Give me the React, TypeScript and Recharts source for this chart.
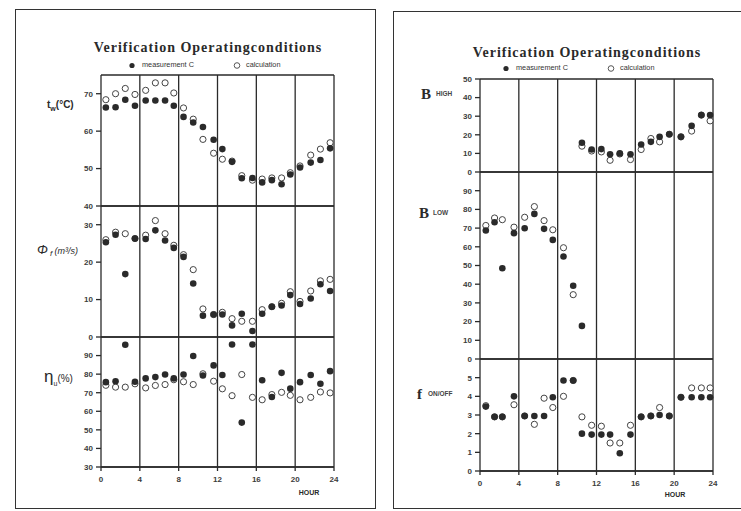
import React from "react";
import { ScatterChart, Scatter, XAxis, YAxis, ReferenceLine } from "recharts";

const hourTicks = [0, 4, 8, 12, 16, 20, 24];
const gridHours = [4, 8, 12, 16, 20];

// left sheet: water temperature, flow, efficiency
const leftHours = [0.5, 1.5, 2.5, 3.5, 4.6, 5.6, 6.6, 7.5, 8.5, 9.5, 10.5, 11.6, 12.5, 13.5, 14.5, 15.6, 16.6, 17.6, 18.6, 19.5, 20.5, 21.6, 22.6, 23.6];
const twMeasured = [66.3, 66.4, 68.4, 66.8, 68.2, 68.2, 68.2, 66.8, 63.8, 62.3, 61.1, 57.7, 55.2, 51.8, 47.4, 47.5, 46.3, 46.9, 45.8, 48.4, 50.3, 51.6, 52.3, 55.4];
const twCalc = [68.4, 70.0, 71.4, 69.8, 70.9, 72.9, 72.9, 70.2, 66.2, 63.2, 57.8, 54.1, 52.5, 52.0, 48.1, 46.9, 47.2, 47.5, 47.5, 48.9, 50.7, 53.6, 55.2, 56.9];
const phiMeasured = [25.3, 27.3, 16.8, 26.3, 26.2, 28.5, 25.8, 23.8, 21.4, 14.3, 5.7, 6.0, 6.0, 3.1, 6.2, 1.6, 6.2, 8.1, 8.4, 11.2, 8.8, 10.3, 14.1, 12.3];
const phiCalc = [26.0, 28.0, 27.6, 26.3, 27.2, 31.1, 27.6, 24.5, 22.0, 18.0, 7.5, 6.0, 6.6, 4.9, 4.2, 4.2, 7.3, 8.1, 9.0, 12.1, 9.5, 12.3, 15.0, 15.4];
const etaMeasured = [75.7, 76.2, 95.8, 75.9, 77.7, 78.4, 79.8, 77.7, 79.8, 89.8, 79.3, 84.7, 79.5, 96.0, 53.9, 96.0, 76.7, 67.7, 80.7, 72.2, 75.7, 79.5, 74.8, 81.6];
const etaCalc = [74.0, 73.0, 73.0, 74.8, 72.6, 73.9, 74.4, 77.0, 75.9, 74.4, 80.2, 76.2, 72.1, 68.4, 79.8, 67.5, 66.2, 69.0, 70.2, 68.6, 66.2, 67.5, 70.4, 69.9];

// right sheet: burner high / low, switching frequency
const rightHours = [0.6, 1.5, 2.3, 3.5, 4.6, 5.6, 6.6, 7.5, 8.6, 9.6, 10.5, 11.5, 12.5, 13.4, 14.4, 15.5, 16.6, 17.6, 18.5, 19.5, 20.7, 21.8, 22.8, 23.7];
const bHighMeasured = [null, null, null, null, null, null, null, null, null, null, 15.7, 12.1, 12.3, 9.5, 10.0, 9.5, 14.8, 16.2, 18.9, 20.3, 18.9, 24.8, 30.6, 30.6];
const bHighCalc = [null, null, null, null, null, null, null, null, null, null, 13.9, 11.3, 10.8, 6.3, 9.7, 6.7, 12.1, 18.0, 16.2, 20.3, 18.9, 22.0, 30.6, 27.5];
const bLowMeasured = [68.7, 73.1, 48.5, 67.3, 69.9, 77.6, 69.6, 63.7, 54.8, 39.2, 17.7, null, null, null, null, null, null, null, null, null, null, null, null, null];
const bLowCalc = [71.4, 75.4, 74.5, 70.5, 75.8, 81.5, 74.0, 69.1, 59.5, 34.4, null, null, null, null, null, null, null, null, null, null, null, null, null, null];
const fMeasured = [3.45, 2.9, 2.9, 4.0, 2.95, 2.95, 2.95, 3.95, 4.85, 4.85, 2.0, 1.95, 1.95, 1.95, 0.95, 1.95, 2.9, 2.95, 3.0, 2.95, 3.95, 3.95, 3.95, 3.95];
const fCalc = [3.5, 2.9, 2.9, 3.55, 2.95, 2.5, 3.9, 3.4, 4.0, 4.85, 2.9, 2.45, 2.4, 1.5, 1.5, 2.45, 2.9, 2.95, 3.4, 2.95, 3.95, 4.45, 4.45, 4.45];

const INK = "#2a2a2a";
const tickStyle = {
  fill: "#3c3c3c",
  fontSize: 8,
  fontWeight: 700,
  fontFamily: "Liberation Sans, Arial, sans-serif",
};

function pairs(hours: number[], values: (number | null)[]) {
  return hours
    .map((hour, i) => ({ hour, value: values[i] }))
    .filter((d) => d.value !== null);
}

const Dot = (p: any) => <circle cx={p.cx} cy={p.cy} r={3.3} fill={INK} />;
const Ring = (p: any) => (
  <circle cx={p.cx} cy={p.cy} r={3.1} fill="#fff" stroke="#444" strokeWidth={1} />
);

interface StripProps {
  x: number;
  y: number;
  w: number;
  h: number;
  domain: [number, number];
  ticks: number[];
  hours: number[];
  measured: (number | null)[];
  calc: (number | null)[];
  showHours?: boolean;
}

function Strip({ x, y, w, h, domain, ticks, hours, measured, calc, showHours }: StripProps) {
  const padL = 40;
  const padT = 6;
  const padR = 6;
  const padB = showHours ? 24 : 6;
  const line = { stroke: INK, strokeWidth: 1.3 };
  return (
    <div style={{ position: "absolute", left: x - padL, top: y - padT }}>
      <ScatterChart
        width={w + padL + padR}
        height={h + padT + padB}
        margin={{ top: padT, right: padR, bottom: showHours ? 0 : padB, left: 0 }}
      >
        <XAxis
          type="number"
          dataKey="hour"
          domain={[0, 24]}
          ticks={hourTicks}
          hide={!showHours}
          height={padB}
          tick={tickStyle}
          tickSize={4}
          tickMargin={5}
          axisLine={line}
          tickLine={line}
          interval={0}
        />
        <YAxis
          type="number"
          dataKey="value"
          domain={domain}
          ticks={ticks}
          width={padL}
          tick={tickStyle}
          tickSize={5}
          tickMargin={3}
          axisLine={line}
          tickLine={line}
          interval={0}
        />
        {gridHours.map((g) => (
          <ReferenceLine key={g} x={g} {...line} />
        ))}
        <ReferenceLine x={24} {...line} />
        <ReferenceLine y={domain[1]} {...line} />
        <ReferenceLine y={domain[0]} {...line} />
        <Scatter data={pairs(hours, calc)} shape={Ring} isAnimationActive={false} />
        <Scatter data={pairs(hours, measured)} shape={Dot} isAnimationActive={false} />
      </ScatterChart>
    </div>
  );
}

function Txt({
  x,
  y,
  center,
  style,
  children,
}: {
  x: number;
  y: number;
  center?: boolean;
  style?: React.CSSProperties;
  children: React.ReactNode;
}) {
  return (
    <div
      style={{
        position: "absolute",
        left: x,
        top: y,
        transform: center ? "translate(-50%, -50%)" : "translate(0, -50%)",
        whiteSpace: "nowrap",
        lineHeight: 1,
        color: INK,
        fontFamily: "Liberation Sans, Arial, sans-serif",
        ...style,
      }}
    >
      {children}
    </div>
  );
}

const titleStyle: React.CSSProperties = {
  fontFamily: "Liberation Serif, serif",
  fontWeight: 700,
  fontSize: 14,
  letterSpacing: 1.0,
};
const legendStyle: React.CSSProperties = { fontSize: 7.3, color: "#333" };
const bigLetter: React.CSSProperties = {
  fontFamily: "Liberation Serif, serif",
  fontWeight: 700,
  fontSize: 15,
};
const smallCaps: React.CSSProperties = { fontSize: 6.5, fontWeight: 700, color: "#444" };

function Legend({ x, y }: { x: number; y: number }) {
  return (
    <>
      <svg style={{ position: "absolute", left: x - 4, top: y - 4 }} width={118} height={9}>
        <circle cx={4} cy={4.5} r={2.6} fill={INK} />
        <circle cx={109} cy={4.5} r={2.8} fill="none" stroke="#444" strokeWidth={0.9} />
      </svg>
      <Txt x={x + 10} y={y} style={legendStyle}>measurement C</Txt>
      <Txt x={x + 114} y={y} style={legendStyle}>calculation</Txt>
    </>
  );
}

export default function App() {
  return (
    <div
      style={{
        position: "absolute",
        left: 0,
        top: 0,
        width: 741,
        height: 511,
        background: "#fff",
        overflow: "hidden",
      }}
    >
      {/* frames */}
      <div style={{ position: "absolute", left: 15, top: 9, width: 359, height: 498, border: "1.5px solid #333" }} />
      <div style={{ position: "absolute", left: 393, top: 11, width: 370, height: 496, border: "1.5px solid #333" }} />

      {/* left sheet */}
      <Txt x={208} y={48} center style={titleStyle}>Verification Operatingconditions</Txt>
      <Legend x={132} y={65} />
      <Strip x={101} y={75} w={233} h={131} domain={[40, 75]} ticks={[40, 50, 60, 70]} hours={leftHours} measured={twMeasured} calc={twCalc} />
      <Strip x={101} y={206} w={233} h={131} domain={[0, 35]} ticks={[0, 10, 20, 30]} hours={leftHours} measured={phiMeasured} calc={phiCalc} />
      <Strip x={101} y={337} w={233} h={130} domain={[30, 100]} ticks={[30, 40, 50, 60, 70, 80, 90]} hours={leftHours} measured={etaMeasured} calc={etaCalc} showHours />
      <Txt x={47} y={105} style={{ fontSize: 10, fontWeight: 700 }}>
        t<span style={{ fontSize: 7, position: "relative", top: 3 }}>w</span>(°C)
      </Txt>
      <Txt x={37} y={249} style={{ fontSize: 9, fontStyle: "italic" }}>
        <span style={{ fontSize: 13 }}>Φ</span>
        <span style={{ fontSize: 8, position: "relative", top: 2 }}> f </span> (m³/s)
      </Txt>
      <Txt x={44} y={376} style={{ fontSize: 10 }}>
        <span style={{ fontSize: 17 }}>η</span>
        <span style={{ fontSize: 7, position: "relative", top: 4 }}>u</span>(%)
      </Txt>
      <Txt x={309} y={492} center style={{ fontSize: 7, fontWeight: 700 }}>HOUR</Txt>

      {/* right sheet */}
      <Txt x={587} y={53} center style={titleStyle}>Verification Operatingconditions</Txt>
      <Legend x={506} y={68} />
      <Strip x={480} y={79} w={233} h={93} domain={[0, 50]} ticks={[0, 10, 20, 30, 40, 50]} hours={rightHours} measured={bHighMeasured} calc={bHighCalc} />
      <Strip x={480} y={172} w={233} h={187} domain={[0, 100]} ticks={[0, 10, 20, 30, 40, 50, 60, 70, 80, 90]} hours={rightHours} measured={bLowMeasured} calc={bLowCalc} />
      <Strip x={480} y={359} w={233} h={112} domain={[0, 6]} ticks={[0, 1, 2, 3, 4, 5]} hours={rightHours} measured={fMeasured} calc={fCalc} showHours />
      <Txt x={421} y={94} style={bigLetter}>B</Txt>
      <Txt x={436} y={94} style={smallCaps}>HIGH</Txt>
      <Txt x={419} y={213} style={bigLetter}>B</Txt>
      <Txt x={433} y={213} style={smallCaps}>LOW</Txt>
      <Txt x={417} y={394} style={bigLetter}>f</Txt>
      <Txt x={428} y={394} style={smallCaps}>ON/OFF</Txt>
      <Txt x={675} y={494} center style={{ fontSize: 7, fontWeight: 700 }}>HOUR</Txt>
    </div>
  );
}
